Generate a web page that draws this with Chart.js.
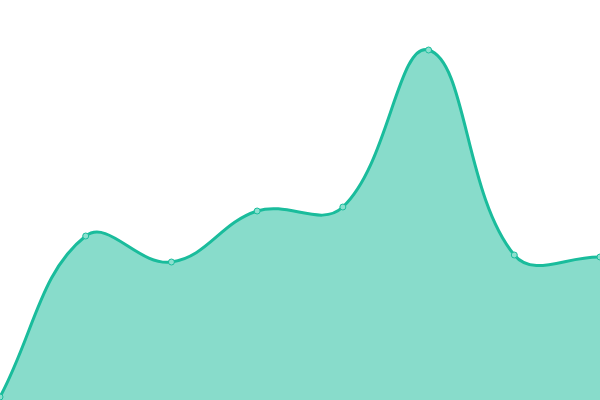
<!DOCTYPE html>
<html>
<head>
<meta charset="utf-8">
<script src="https://cdn.jsdelivr.net/npm/chart.js@4"></script>
<style>
  html, body { margin: 0; padding: 0; background: #fff; }
  #wrap { width: 600px; height: 400px; }
</style>
</head>
<body>
<div id="wrap"><canvas id="chart"></canvas></div>
<script>
const labels = ['1', '2', '3', '4', '5', '6', '7', '8'];
const values = [0.75, 41, 34.5, 47.25, 48.25, 87.5, 36.25, 35.75];
const lineColor = 'rgb(26, 188, 156)';
const fillColor = 'rgba(26, 188, 156, 0.52)';

const ctx = document.getElementById('chart').getContext('2d');
const chart = new Chart(ctx, {
    type: 'line',
    data: {
        labels: labels,
        datasets: [{
            data: values,
            borderColor: lineColor,
            backgroundColor: fillColor,
            borderWidth: 3,
            fill: true,
            tension: 0.4,
            pointRadius: 3,
            pointBorderWidth: 1,
            pointBackgroundColor: 'rgb(140, 224, 207)',
            pointBorderColor: lineColor,
            clip: false
        }]
    },
    options: {
        responsive: true,
        maintainAspectRatio: false,
        animation: false,
        layout: { padding: 0, autoPadding: false },
        plugins: {
            legend: { display: false },
            tooltip: { enabled: false }
        },
        scales: {
            x: { display: false },
            y: { display: false, min: 0, max: 100 }
        }
    }
});
</script>
</body>
</html>
